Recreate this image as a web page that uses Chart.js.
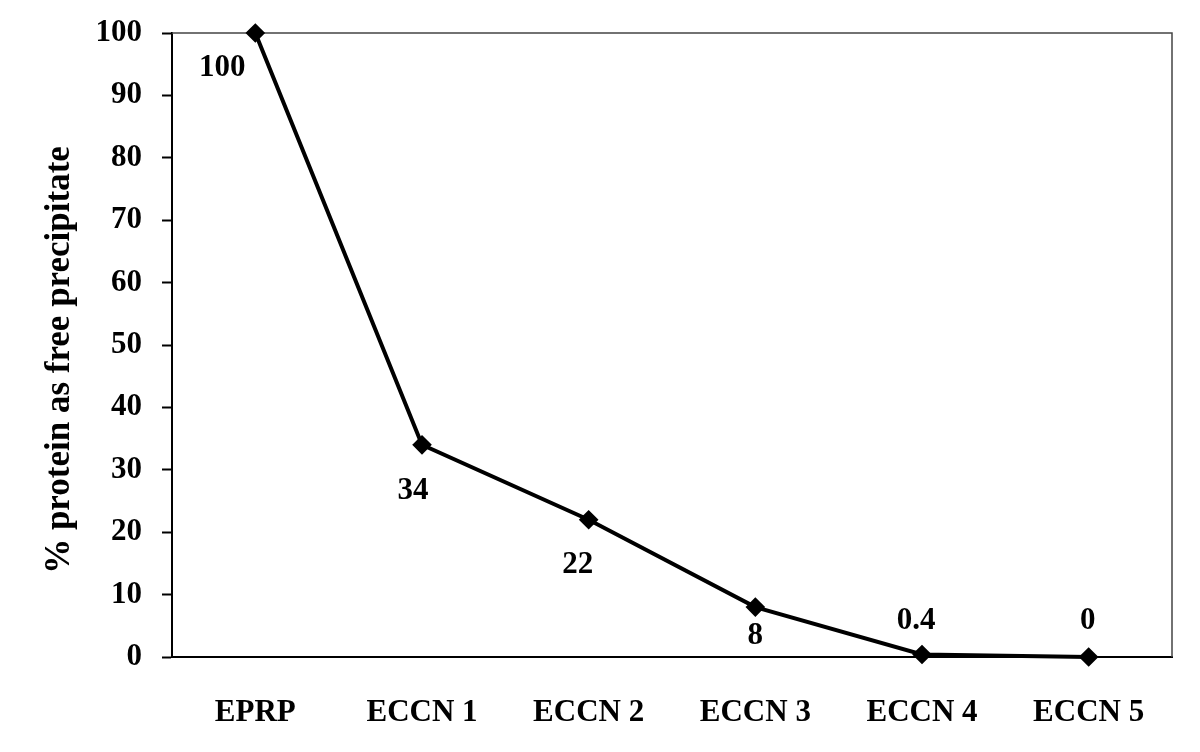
<!DOCTYPE html>
<html>
<head>
<meta charset="utf-8">
<script src="https://cdn.jsdelivr.net/npm/chart.js@4/dist/chart.umd.min.js"></script>
<style>
html,body{margin:0;padding:0;background:#fff;}
#wrap{width:1200px;height:752px;}
</style>
</head>
<body>
<div id="wrap"><canvas id="c" width="1200" height="752"></canvas></div>
<script>
const categories = ["EPRP", "ECCN 1", "ECCN 2", "ECCN 3", "ECCN 4", "ECCN 5"];
const values = [100, 34, 22, 8, 0.4, 0];
const valueLabels = ["100", "34", "22", "8", "0.4", "0"];
const yTickValues = [0, 10, 20, 30, 40, 50, 60, 70, 80, 90, 100];
const yTitle = "% protein as free precipitate";

// label offsets relative to point (style)
const labelOffsets = [[-33, 35], [-9, 46], [-11, 45], [0, 29], [-6, -34], [-1, -36]];
const FONT = "'Liberation Serif', 'Times New Roman', serif";

const labelPlugin = {
  id: 'valueLabels',
  afterDatasetsDraw(chart) {
    const ctx = chart.ctx;
    const meta = chart.getDatasetMeta(0);
    ctx.save();
    ctx.font = "bold 31px " + FONT;
    ctx.fillStyle = "#000";
    ctx.textAlign = "center";
    ctx.textBaseline = "middle";
    meta.data.forEach((pt, i) => {
      const o = labelOffsets[i];
      ctx.fillText(valueLabels[i], pt.x + o[0], pt.y + o[1]);
    });
    ctx.restore();
  }
};

const framePlugin = {
  id: 'frame',
  beforeDatasetsDraw(chart) {
    const a = chart.chartArea;
    const ctx = chart.ctx;
    ctx.save();
    ctx.strokeStyle = "#444";
    ctx.lineWidth = 1.5;
    ctx.beginPath();
    ctx.moveTo(a.left, a.top);
    ctx.lineTo(a.right, a.top);
    ctx.lineTo(a.right, a.bottom);
    ctx.stroke();
    ctx.restore();
  }
};

const titlePlugin = {
  id: 'yTitle',
  afterDraw(chart) {
    const ctx = chart.ctx;
    ctx.save();
    ctx.translate(60, 360);
    ctx.rotate(-Math.PI / 2);
    ctx.font = "bold 35px " + FONT;
    ctx.fillStyle = "#000";
    ctx.textAlign = "center";
    ctx.textBaseline = "middle";
    ctx.fillText(yTitle, 0, 0);
    ctx.restore();
  }
};

new Chart(document.getElementById('c'), {
  type: 'line',
  data: {
    labels: categories,
    datasets: [{
      data: values,
      borderColor: '#000',
      backgroundColor: '#000',
      borderWidth: 4,
      pointStyle: 'rectRot',
      pointRadius: 7,
      pointBackgroundColor: '#000',
      pointBorderColor: '#000',
      tension: 0,
      clip: false
    }]
  },
  options: {
    responsive: false,
    animation: false,
    devicePixelRatio: 1,
    layout: { padding: { top: 33, right: 28, left: 0, bottom: 0 } },
    plugins: { legend: { display: false }, tooltip: { enabled: false } },
    scales: {
      x: {
        offset: true,
        grid: { display: true, drawOnChartArea: false, drawTicks: false, color: '#000' },
        border: { display: true, color: '#000', width: 2 },
        ticks: { color: '#000', font: { family: FONT, weight: 'bold', size: 31 }, padding: 37, maxRotation: 0 },
        afterFit(scale) { scale.height = 95; scale.paddingLeft = 0; scale.paddingRight = 0; }
      },
      y: {
        min: 0, max: 100,
        afterBuildTicks(scale) { scale.ticks = yTickValues.map(v => ({ value: v })); },
        grid: { display: true, drawOnChartArea: false, drawTicks: true, tickLength: 10, color: '#000', tickWidth: 2 },
        border: { display: true, color: '#000', width: 2 },
        ticks: { color: '#000', font: { family: FONT, weight: 'bold', size: 31 }, padding: 20 },
        title: { display: false, text: yTitle },
        afterFit(scale) { scale.width = 172; scale.paddingTop = 0; scale.paddingBottom = 0; }
      }
    }
  },
  plugins: [framePlugin, labelPlugin, titlePlugin]
});
</script>
</body>
</html>
